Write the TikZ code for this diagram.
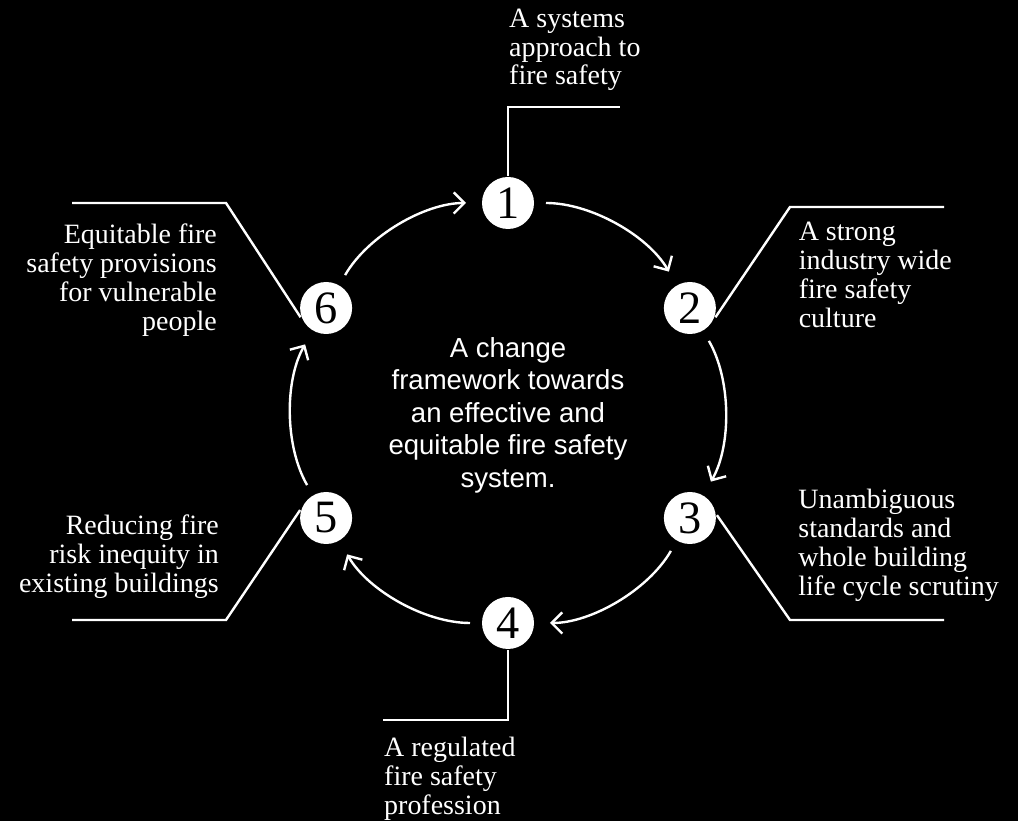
\documentclass[tikz,border=0pt]{standalone}
\usepackage{fontspec}
\setmainfont{Liberation Serif}
\setsansfont{Liberation Sans}
\usetikzlibrary{arrows.meta,positioning}

\begin{document}
\begin{tikzpicture}[
    white, line width=1.7pt,
    >={Straight Barb[length=7.5pt,width=15pt]},
    stage/.style={circle,fill=white,text=black,inner sep=0pt,minimum size=1.3cm,
        font=\fontsize{33}{33}\selectfont},
    note/.style={inner sep=0pt,text=white,font=\fontsize{19.9}{20.6}\selectfont},
    cyc/.style={->,bend left=30,looseness=0.88,shorten <=0.27cm,shorten >=0.37cm}]

        \fill[black] (0,0) rectangle (25.45,20.525);
        \useasboundingbox (0,0) rectangle (25.45,20.525);

        \node[stage] (s1) at (12.7,15.45) {1};
        \node[stage] (s2) at (17.247,12.825) {2};
        \node[stage] (s3) at (17.247,7.575) {3};
        \node[stage] (s4) at (12.7,4.95) {4};
        \node[stage] (s5) at (8.153,7.575) {5};
        \node[stage] (s6) at (8.153,12.825) {6};

        \draw[cyc] (s1) to (s2);
        \draw[cyc] (s2) to (s3);
        \draw[cyc] (s3) to (s4);
        \draw[cyc] (s4) to (s5);
        \draw[cyc] (s5) to (s6);
        \draw[cyc] (s6) to (s1);

        \node[align=center,font=\sffamily\fontsize{19.6}{23.1}\selectfont] (goal) at (12.7,10.15)
            {A change\\framework towards\\an effective and\\equitable fire safety\\system.};

        \coordinate (k1) at (12.7,17.85);
        \coordinate (e1) at (15.5,17.85);
        \coordinate (k2) at (19.75,15.35);
        \coordinate (e2) at (23.6,15.35);
        \coordinate (k3) at (19.75,5.025);
        \coordinate (e3) at (23.6,5.025);
        \coordinate (k4) at (12.7,2.525);
        \coordinate (e4) at (9.575,2.525);
        \coordinate (k5) at (5.65,5.025);
        \coordinate (e5) at (1.8,5.025);
        \coordinate (k6) at (5.65,15.45);
        \coordinate (e6) at (1.8,15.45);

        \draw (s1) -- (k1) -- (e1);
        \draw (s2.-20) -- (k2) -- (e2);
        \draw (s3.6) -- (k3) -- (e3);
        \draw (s4) -- (k4) -- (e4);
        \draw (s5.163) -- (k5) -- (e5);
        \draw (s6.200) -- (k6) -- (e6);

        \node[note,anchor=north west,align=left] (t1) at (12.7,20.34) {A systems\\approach to\\fire safety};
        \node[note,anchor=north west,align=left] (t2) at (19.94,15.0) {A strong\\industry wide\\fire safety\\culture};
        \node[note,anchor=north west,align=left] (t3) at (19.93,8.325) {Unambiguous\\standards and\\whole building\\life cycle scrutiny};
        \node[note,anchor=north west,align=left] (t4) at (9.575,2.125) {A regulated\\fire safety\\profession};
        \node[note,anchor=north east,align=right] (t5) at (5.5,7.675) {Reducing fire\\risk inequity in\\existing buildings};
        \node[note,anchor=north east,align=right] (t6) at (5.45,14.95) {Equitable fire\\safety provisions\\for vulnerable\\people};
    \end{tikzpicture}
\end{document}
